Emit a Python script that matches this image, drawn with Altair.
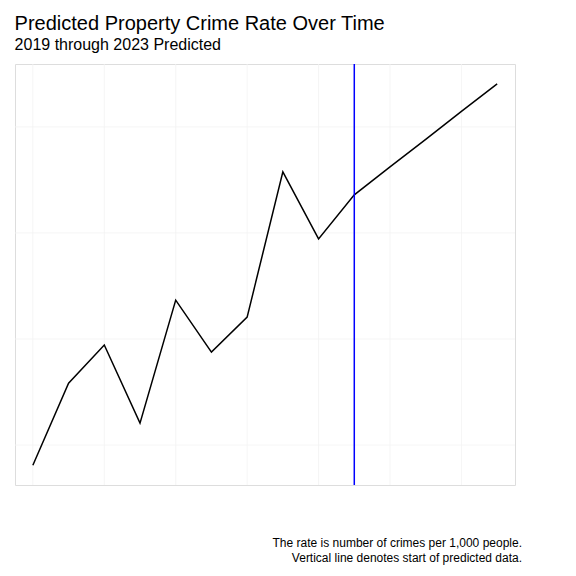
import altair as alt
import pandas as pd

years = list(range(2010, 2024))
rates = [48.93, 51.25, 52.33, 50.12, 53.6, 52.13, 53.12, 57.23, 55.33, 56.58,
         57.37, 58.15, 58.94, 59.72]
minor_x = [2010, 2012, 2014, 2016, 2018, 2020, 2022]
minor_y = [49.5, 52.5, 55.5, 58.5]
caption = ["The rate is number of crimes per 1,000 people.",
           "Vertical line denotes start of predicted data."]

df = pd.DataFrame({"year": years, "rate": rates})

xs = alt.Scale(domain=[2009.5, 2023.5], nice=False, zero=False)
ys = alt.Scale(domain=[48.37, 60.28], nice=False, zero=False)

minx = alt.Chart(pd.DataFrame({"x": minor_x})).mark_rule(color="#f2f2f2", strokeWidth=0.8).encode(
    x=alt.X("x:Q", scale=xs, axis=None))
miny = alt.Chart(pd.DataFrame({"y": minor_y})).mark_rule(color="#f2f2f2", strokeWidth=0.8).encode(
    y=alt.Y("y:Q", scale=ys, axis=None))

line = alt.Chart(df).mark_line(color="black", strokeWidth=1.5).encode(
    x=alt.X("year:Q", scale=xs, title="Year",
            axis=alt.Axis(values=[2011, 2013, 2015, 2017, 2019, 2021, 2023], format="d",
                          gridColor="#e5e5e5", domain=False, ticks=False,
                          labelColor="#4d4d4d", labelFontSize=12, titleFontSize=16,
                          titleFontWeight="normal", titleColor="black", titlePadding=4,
                          labelPadding=6)),
    y=alt.Y("rate:Q", scale=ys, title="Property Crime Rate",
            axis=alt.Axis(values=[51, 54, 57, 60], gridColor="#e5e5e5", domain=False,
                          ticks=False, labelColor="#4d4d4d", labelFontSize=12,
                          titleFontSize=16, titleFontWeight="normal", titleColor="black",
                          titlePadding=8, labelPadding=6)),
)

vline = alt.Chart(pd.DataFrame({"x": [2019]})).mark_rule(color="blue", strokeWidth=1.5).encode(
    x=alt.X("x:Q", scale=xs, axis=None))

cap1 = alt.Chart(pd.DataFrame({"t": [caption[0]]})).mark_text(
    align="right", fontSize=12, color="black", clip=False).encode(
    text="t:N", x=alt.value(507), y=alt.value(479))
cap2 = alt.Chart(pd.DataFrame({"t": [caption[1]]})).mark_text(
    align="right", fontSize=12, color="black", clip=False).encode(
    text="t:N", x=alt.value(507), y=alt.value(494))

chart = alt.layer(minx, miny, line, vline, cap1, cap2).properties(
    width=500, height=421,
    padding={"left": 6, "top": 6, "right": 8, "bottom": 4},
    title=alt.TitleParams("Predicted Property Crime Rate Over Time",
                          subtitle="2019 through 2023 Predicted",
                          anchor="start", frame="bounds", fontSize=20, fontWeight="normal",
                          subtitleFontSize=16, subtitleColor="black", offset=10),
).configure_view(stroke=None).configure(font="Liberation Sans")

chart.save("out.html", embed_options={"renderer": "svg", "actions": False})
